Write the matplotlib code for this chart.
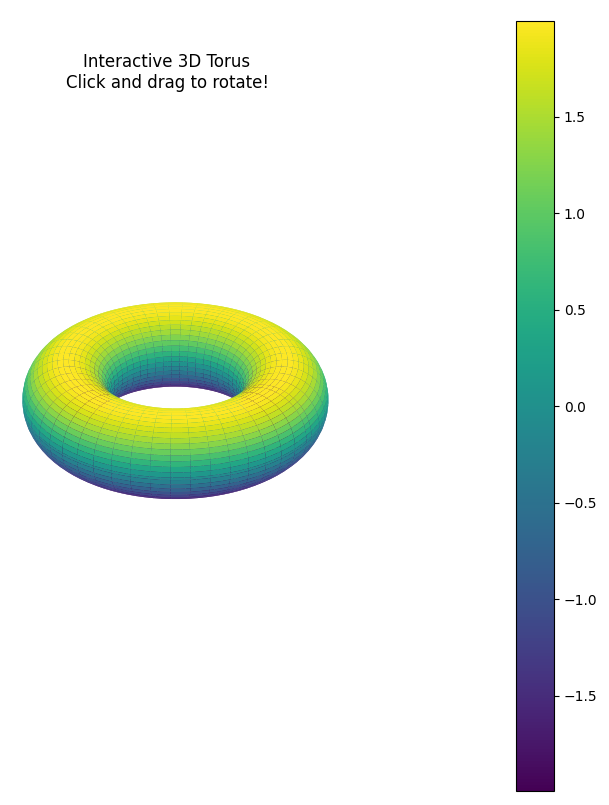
import numpy as np
import matplotlib
matplotlib.use("Agg")
import matplotlib.pyplot as plt

major_radius = 5.0
minor_radius = 2.0
n_theta = 100
n_phi = 100
xy_limits = (-7, 7)
z_limits = (-5.25, 5.25)
title_text = "Interactive 3D Torus\nClick and drag to rotate!"
cbar_ticks = [-1.5, -1.0, -0.5, 0.0, 0.5, 1.0, 1.5]

theta = np.linspace(0, 2 * np.pi, n_theta)
phi = np.linspace(0, 2 * np.pi, n_phi)
theta, phi = np.meshgrid(theta, phi)
x = (major_radius + minor_radius * np.cos(theta)) * np.cos(phi)
y = (major_radius + minor_radius * np.cos(theta)) * np.sin(phi)
z = minor_radius * np.sin(theta)

fig = plt.figure(figsize=(6.09, 8.05), dpi=100)
ax = fig.add_axes([-68.5 / 609, -1 / 805, 475 / 609, 1.0], projection="3d")
surf = ax.plot_surface(x, y, z, cmap="viridis", edgecolor="none", linewidth=0.1)
ax.set_xlim(*xy_limits)
ax.set_ylim(*xy_limits)
ax.set_zlim(*z_limits)
ax.set_axis_off()
ax.view_init(elev=30, azim=-60)
cax = fig.add_axes([516 / 609, 1 - 791 / 805, 38 / 609, 770 / 805])
cb = fig.colorbar(surf, cax=cax)
cb.set_ticks(cbar_ticks)
fig.text(167 / 609, 1 - 72.5 / 805, title_text, ha="center", va="center", fontsize=12)
fig.savefig("out.png", dpi=100)
